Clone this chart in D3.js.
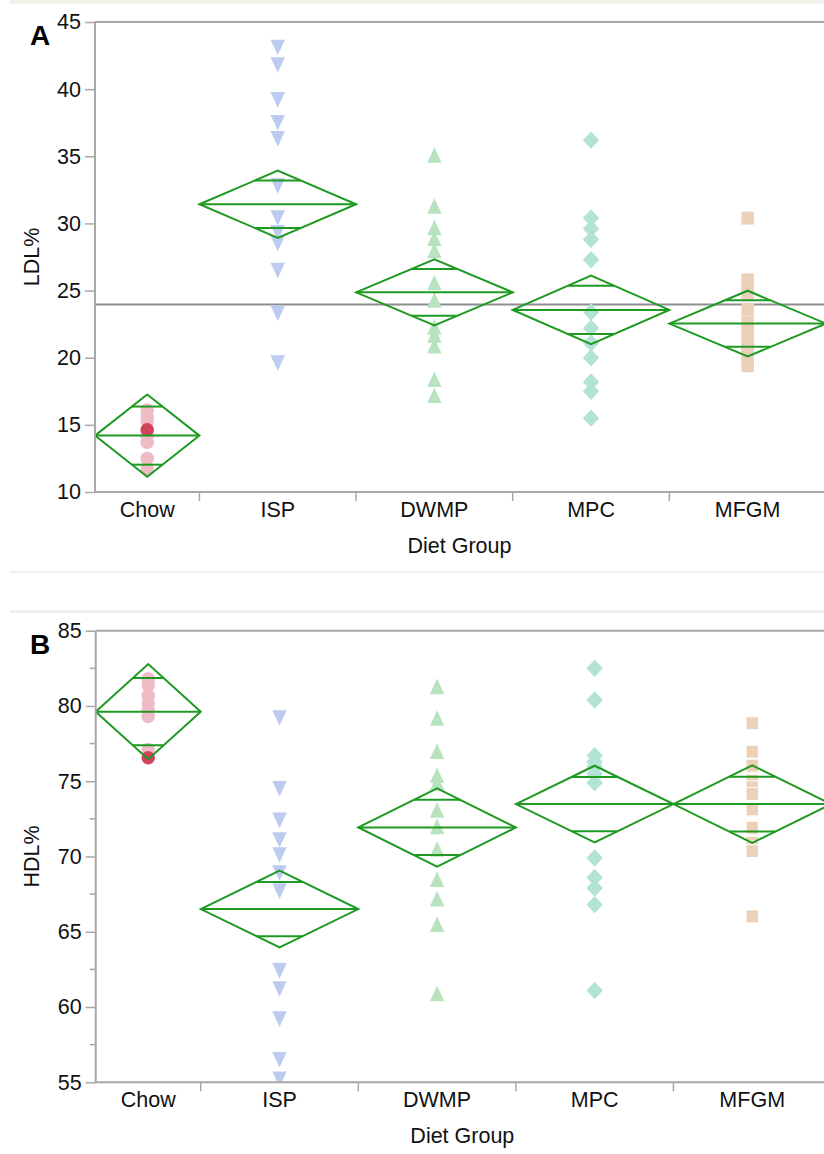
<!DOCTYPE html>
<html>
<head>
<meta charset="utf-8">
<script src="https://cdn.jsdelivr.net/npm/d3@7"></script>
<style>
  html, body { margin: 0; padding: 0; background: #fff; }
  svg { display: block; font-family: "Liberation Sans", Arial, Helvetica, sans-serif; }
</style>
</head>
<body>
<svg id="chart" width="824" height="1154"></svg>
<script>
// Diet groups along the x axis
const groups = ["Chow", "ISP", "DWMP", "MPC", "MFGM"];

// LDL% per animal, by diet group
const ldlChow = [14.64, 16.1, 15.6, 15.3, 14.2, 13.7, 12.5, 11.7];
const ldlISP  = [43.1, 41.8, 39.2, 37.5, 36.3, 32.8, 30.4, 29.3, 28.5, 26.5, 23.3, 19.6];
const ldlDWMP = [35.1, 31.3, 29.7, 28.9, 28.0, 25.6, 24.3, 22.3, 21.7, 20.9, 18.4, 17.2];
const ldlMPC  = [36.2, 30.4, 29.6, 28.8, 27.3, 23.4, 22.2, 21.1, 20.0, 18.2, 17.5, 15.5];
const ldlMFGM = [30.4, 25.8, 25.2, 24.7, 23.6, 22.6, 21.9, 21.3, 20.7, 20.2, 19.8, 19.4];

// HDL% per animal, by diet group
const hdlChow = [76.56, 81.8, 81.4, 80.7, 80.2, 79.7, 79.3, 77.1];
const hdlISP  = [79.2, 74.5, 72.4, 71.1, 70.1, 68.9, 67.7, 62.4, 61.2, 59.2, 56.5, 55.2];
const hdlDWMP = [81.3, 79.2, 77.0, 75.4, 74.9, 73.1, 72.0, 70.5, 68.5, 67.2, 65.5, 60.9];
const hdlMPC  = [82.5, 80.4, 76.7, 76.3, 76.0, 75.5, 74.9, 69.9, 68.6, 67.9, 66.8, 61.1];
const hdlMFGM = [78.85, 76.96, 76.03, 75.03, 74.6, 74.15, 73.13, 71.91, 70.91, 70.6, 70.36, 66.02];

// Chow animal drawn in the highlight colour (same index in both arrays)
const chowHighlight = 0;

// Group means and 95% CI half-widths (means diamonds)
const ldlMean = [14.2, 31.43, 24.87, 23.56, 22.54];
const ldlCI   = [3.06, 2.5, 2.46, 2.55, 2.45];
const hdlMean = [79.62, 66.51, 71.93, 73.48, 73.48];
const hdlCI   = [3.16, 2.55, 2.6, 2.55, 2.58];

// Y axis tick values
const ldlTicks = [10, 15, 20, 25, 30, 35, 40, 45];
const hdlTicks = [55, 60, 65, 70, 75, 80, 85];
const hdlMinorTicks = [57.5, 62.5, 67.5, 72.5, 77.5, 82.5];

const ldlData = [ldlChow, ldlISP, ldlDWMP, ldlMPC, ldlMFGM];
const hdlData = [hdlChow, hdlISP, hdlDWMP, hdlMPC, hdlMFGM];

// ---- styling ----
const markerShape = ["circle", "down", "up", "diamond", "square"];
const markerFill  = ["#efbcc5", "#bccbef", "#b7e3be", "#b3e3d5", "#ebd1b9"];
const highlightFill = "#d4435b";
const diamondColor = "#1e9a22";
const axisColor = "#a8a8a8";
const meanLineColor = "#8e8e8e";
const fontSize = "21.5px";

function markerPath(shape) {
  switch (shape) {
    case "down": return "M-7.2,-7.8L7.2,-7.8L0,7.8Z";
    case "up": return "M0,-7.8L7.2,7.8L-7.2,7.8Z";
    case "diamond": return "M0,-8.7L8.2,0L0,8.7L-8.2,0Z";
    case "square": return "M-6.2,-6.5L6.2,-6.5L6.2,6.5L-6.2,6.5Z";
    default: return d3.symbol(d3.symbolCircle, Math.PI * 6.8 * 6.8)();
  }
}

const svg = d3.select("#chart");

// faint panel separators
const sep = svg.append("g").attr("fill", "#f2f2ec");
sep.append("rect").attr("x", 10).attr("y", 0).attr("width", 814).attr("height", 4);
sep.append("rect").attr("x", 10).attr("y", 571).attr("width", 814).attr("height", 2);
sep.append("rect").attr("x", 10).attr("y", 610).attr("width", 814).attr("height", 3);

function drawPanel(opt) {
  const { data, means, cis, domain, ticks, minorTicks, box, label, yLabel,
          showGrandMean, outlineSquares, id } = opt;
  const g = svg.append("g");

  const counts = data.map(d => d.length);
  const cum = [0];
  counts.forEach(c => cum.push(cum[cum.length - 1] + c));
  const total = cum[cum.length - 1];

  // x: band widths proportional to group size
  const x = d3.scaleLinear().domain([0, total]).range([box.x0, box.x1]);
  const y = d3.scaleLinear().domain(domain).range([box.y1, box.y0]);
  const bandL = i => x(cum[i]);
  const bandR = i => x(cum[i + 1]);
  const bandC = i => (bandL(i) + bandR(i)) / 2;

  g.append("clipPath").attr("id", id)
    .append("rect").attr("x", box.x0).attr("y", box.y0)
    .attr("width", box.x1 - box.x0).attr("height", box.y1 - box.y0);

  // top frame line
  g.append("line").attr("x1", box.x0).attr("x2", box.x1)
    .attr("y1", box.y0).attr("y2", box.y0)
    .attr("stroke", axisColor).attr("stroke-width", 2);

  const plot = g.append("g").attr("clip-path", `url(#${id})`);

  // grand mean
  if (showGrandMean) {
    const gm = d3.sum(means.map((m, i) => m * counts[i])) / total;
    plot.append("line").attr("x1", box.x0).attr("x2", box.x1)
      .attr("y1", y(gm)).attr("y2", y(gm))
      .attr("stroke", meanLineColor).attr("stroke-width", 2);
  }

  // points
  groups.forEach((grp, i) => {
    const pts = data[i].map((v, k) => ({ v, k }));
    const ordered = i === 0
      ? pts.filter(p => p.k !== chowHighlight).concat(pts.filter(p => p.k === chowHighlight))
      : pts;
    plot.append("g").selectAll("path").data(ordered).join("path")
      .attr("d", markerPath(markerShape[i]))
      .attr("transform", p => `translate(${bandC(i)},${y(p.v)})`)
      .attr("fill", p => (i === 0 && p.k === chowHighlight) ? highlightFill : markerFill[i])
      .attr("stroke", (i === 4 && outlineSquares) ? "#fff" : "none")
      .attr("stroke-width", 1);
  });

  // means diamonds with overlap marks
  groups.forEach((grp, i) => {
    const L = bandL(i), R = bandR(i), C = bandC(i), W = R - L;
    const m = means[i], h = cis[i];
    const dg = plot.append("g").attr("fill", "none")
      .attr("stroke", diamondColor).attr("stroke-width", 2);
    dg.append("path").attr("d",
      `M${L},${y(m)}L${C},${y(m + h)}L${R},${y(m)}L${C},${y(m - h)}Z`);
    dg.append("line").attr("x1", L).attr("x2", R).attr("y1", y(m)).attr("y2", y(m));
    const off = h / Math.SQRT2;
    const hw = W / 2 * (1 - 1 / Math.SQRT2);
    [m + off, m - off].forEach(v => {
      dg.append("line").attr("x1", C - hw).attr("x2", C + hw)
        .attr("y1", y(v)).attr("y2", y(v));
    });
  });

  // y axis
  const ya = g.append("g").attr("transform", `translate(${box.x0},0)`)
    .call(d3.axisLeft(y).tickValues(ticks).tickSize(10).tickPadding(4).tickFormat(d3.format("d")));
  ya.select(".domain").attr("stroke", axisColor).attr("stroke-width", 2)
    .attr("d", `M0,${box.y0}V${box.y1}`);
  ya.selectAll(".tick line").attr("stroke", axisColor).attr("stroke-width", 1.5);
  ya.selectAll(".tick text").attr("fill", "#111").style("font-size", fontSize)
    .style("font-family", "'Liberation Sans', Arial, sans-serif");
  if (minorTicks) {
    g.append("g").selectAll("line").data(minorTicks).join("line")
      .attr("x1", box.x0 - 6).attr("x2", box.x0)
      .attr("y1", d => y(d)).attr("y2", d => y(d))
      .attr("stroke", axisColor).attr("stroke-width", 1.5);
  }

  // x axis
  g.append("line").attr("x1", box.x0 - 1).attr("x2", box.x1)
    .attr("y1", box.y1).attr("y2", box.y1)
    .attr("stroke", axisColor).attr("stroke-width", 2);
  g.append("g").selectAll("line").data(d3.range(1, groups.length)).join("line")
    .attr("x1", i => bandL(i)).attr("x2", i => bandL(i))
    .attr("y1", box.y1).attr("y2", box.y1 + 9)
    .attr("stroke", axisColor).attr("stroke-width", 1.5);
  g.append("g").selectAll("text").data(groups).join("text")
    .attr("x", (d, i) => bandC(i)).attr("y", box.y1 + 25)
    .attr("text-anchor", "middle").attr("fill", "#111")
    .style("font-size", fontSize).text(d => d);

  // axis titles
  g.append("text").attr("x", (box.x0 + box.x1) / 2 - 1).attr("y", box.y1 + 61)
    .attr("text-anchor", "middle").attr("fill", "#111")
    .style("font-size", fontSize).text("Diet Group");
  g.append("text")
    .attr("transform", `translate(39,${(box.y0 + box.y1) / 2}) rotate(-90)`)
    .attr("text-anchor", "middle").attr("fill", "#111")
    .style("font-size", fontSize).text(yLabel);

  // panel letter
  g.append("text").attr("x", 30).attr("y", box.y0 + 23)
    .attr("fill", "#000").style("font-size", "28px").style("font-weight", "bold")
    .text(label);
}

drawPanel({
  id: "clipA", data: ldlData, means: ldlMean, cis: ldlCI,
  domain: [10, 45], ticks: ldlTicks, minorTicks: null,
  box: { x0: 95, x1: 826, y0: 22, y1: 492 },
  label: "A", yLabel: "LDL%", showGrandMean: true, outlineSquares: false
});

drawPanel({
  id: "clipB", data: hdlData, means: hdlMean, cis: hdlCI,
  domain: [55, 85], ticks: hdlTicks, minorTicks: hdlMinorTicks,
  box: { x0: 95.7, x1: 831, y0: 630.7, y1: 1082.3 },
  label: "B", yLabel: "HDL%", showGrandMean: false, outlineSquares: true
});
</script>
</body>
</html>
